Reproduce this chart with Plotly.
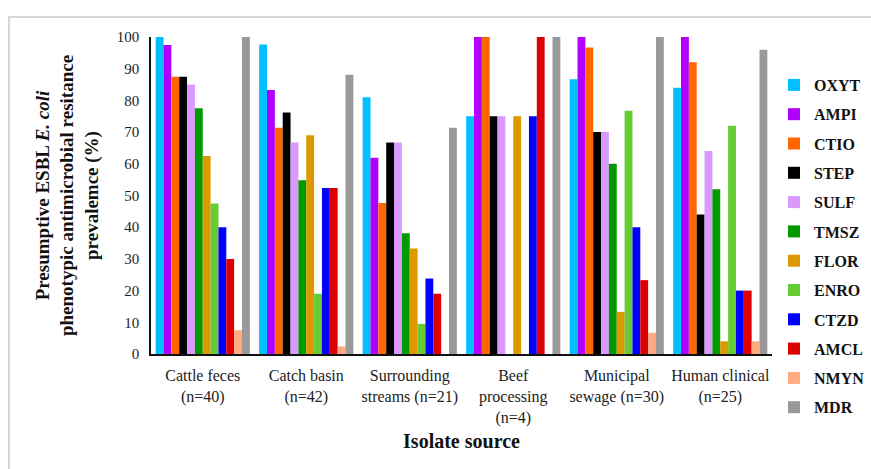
import plotly.graph_objects as go

categories = ["Cattle feces<br>(n=40)", "Catch basin<br>(n=42)", "Surrounding<br>streams (n=21)",
              "Beef<br>processing<br>(n=4)", "Municipal<br>sewage (n=30)", "Human clinical<br>(n=25)"]

OXYT = [100, 97.6, 81.0, 75, 86.7, 84]
AMPI = [97.5, 83.3, 61.9, 100, 100, 100]
CTIO = [87.5, 71.4, 47.6, 100, 96.7, 92]
STEP = [87.5, 76.2, 66.7, 75, 70, 44]
SULF = [85, 66.7, 66.7, 75, 70, 64]
TMSZ = [77.5, 54.8, 38.1, 0, 60, 52]
FLOR = [62.5, 69.0, 33.3, 75, 13.3, 4]
ENRO = [47.5, 19.0, 9.5, 0, 76.7, 72]
CTZD = [40, 52.4, 23.8, 75, 40, 20]
AMCL = [30, 52.4, 19.0, 100, 23.3, 20]
NMYN = [7.5, 2.4, 0, 0, 6.7, 4]
MDR = [100, 88.1, 71.4, 100, 100, 96]

series = [("OXYT", OXYT), ("AMPI", AMPI), ("CTIO", CTIO), ("STEP", STEP), ("SULF", SULF),
          ("TMSZ", TMSZ), ("FLOR", FLOR), ("ENRO", ENRO), ("CTZD", CTZD), ("AMCL", AMCL),
          ("NMYN", NMYN), ("MDR", MDR)]
colors = ["#00C0FF", "#B000FF", "#FF6600", "#000000", "#DA99FF", "#009900",
          "#DD9900", "#66CC33", "#0000FF", "#DD0000", "#FFAA80", "#999999"]

fig = go.Figure()
for (name, vals), c in zip(series, colors):
    fig.add_trace(go.Bar(x=categories, y=vals, name=name, marker=dict(color=c, line=dict(width=0)),
                         legendgroup=name))

serif = "Liberation Serif, Times New Roman, serif"
W, H = 871, 469
L, R, T, B = 151, 99, 37, 115
pw, ph = W - L - R, H - T - B

def px(x):
    return (x - L) / pw

def py(y):
    return (H - B - y) / ph

fig.update_layout(
    width=W, height=H,
    margin=dict(l=L, r=R, t=T, b=B, autoexpand=False),
    paper_bgcolor="white", plot_bgcolor="white",
    barmode="group", bargap=0.09, bargroupgap=0,
    font=dict(family=serif, color="#222222", size=15),
    showlegend=True,
    legend=dict(xref="container", yref="container", x=774 / W, y=1 - 68 / H,
                xanchor="left", yanchor="top", maxheight=440,
                font=dict(family=serif, size=16, color="#111111", weight="bold"),
                tracegroupgap=5.5, itemwidth=30, bgcolor="rgba(0,0,0,0)"),
    xaxis=dict(showline=True, linecolor="#111111", linewidth=2, ticks="", automargin=False,
               ticklabelstandoff=6,
               tickfont=dict(family=serif, size=16, color="#222222"),
               title=dict(text="<b>Isolate source</b>", font=dict(family=serif, size=20, color="#111111"),
                          standoff=8)),
    yaxis=dict(range=[0, 100], dtick=10, showline=True, linecolor="#111111", linewidth=1.5,
               showgrid=False, ticks="", zeroline=False, automargin=False, ticklabelstandoff=7,
               tickfont=dict(family=serif, size=15, color="#222222"),
               title=dict(text="<b>Presumptive ESBL <i>E. coli</i><br>phenotypic antimicrobial resitance<br>prevalemce (%)</b>",
                          font=dict(family=serif, size=19, color="#111111"), standoff=13)),
    shapes=[dict(type="rect", xref="paper", yref="paper",
                 x0=px(9), x1=px(880), y0=py(480), y1=py(17),
                 line=dict(color="#d6d6d6", width=2), fillcolor="rgba(0,0,0,0)", layer="below")],
)

fig.write_html("out.html", config={"displayModeBar": False},
               post_script="document.body.style.margin='0';document.body.style.padding='0';")
